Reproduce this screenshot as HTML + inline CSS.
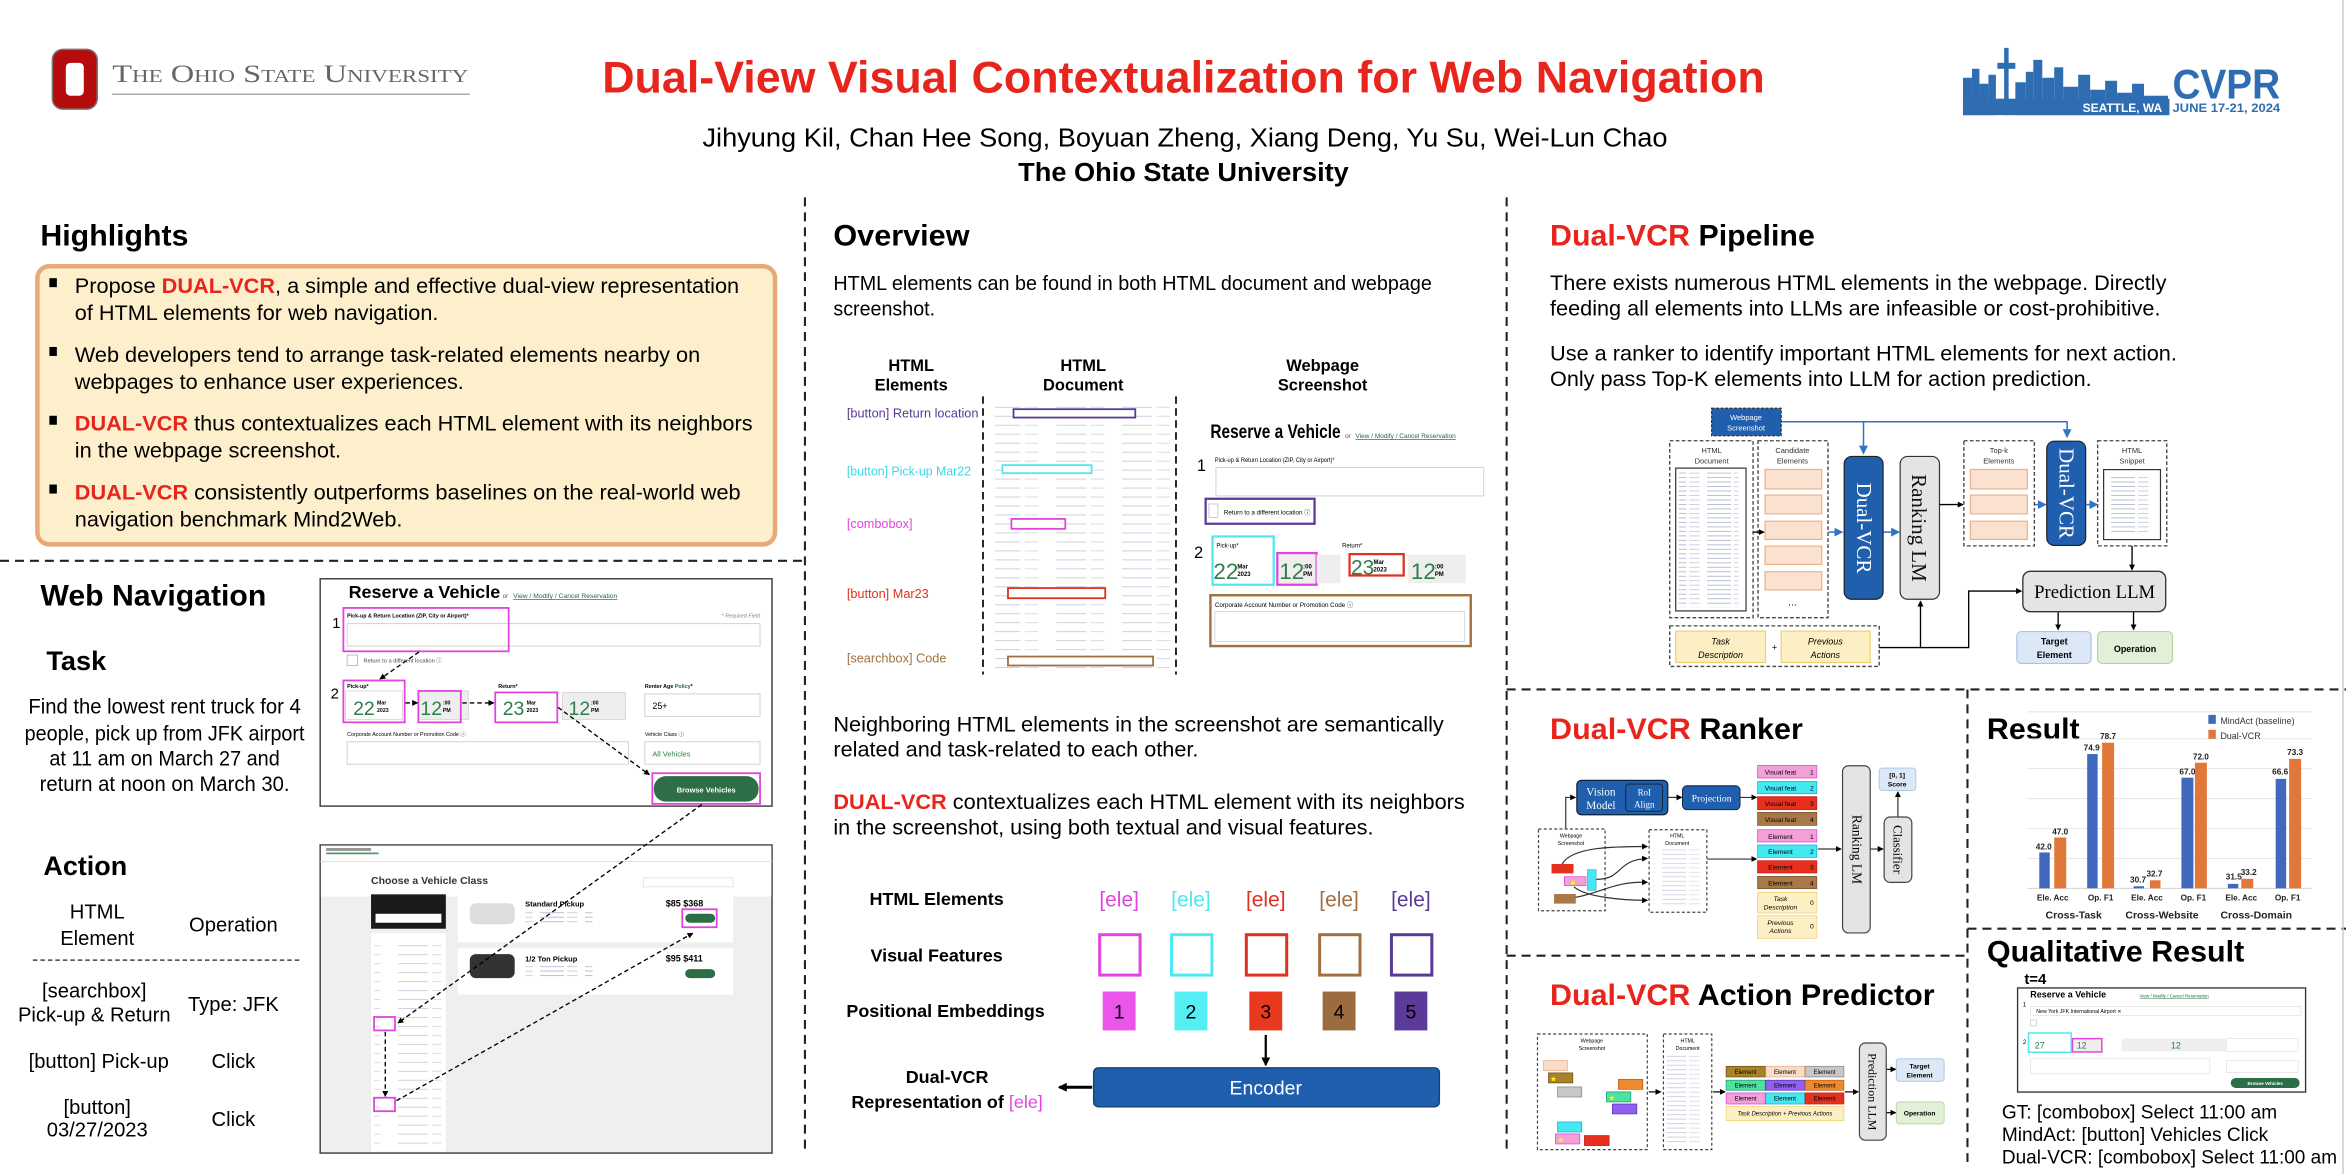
<!DOCTYPE html>
<html><head><meta charset="utf-8"><style>
html,body{margin:0;padding:0;background:#fff;}
svg{display:block;}
</style></head><body>
<svg width="2346" height="1174" viewBox="0 0 1568 785" preserveAspectRatio="none" xmlns="http://www.w3.org/2000/svg" font-family="Liberation Sans, sans-serif">
<defs>
<pattern id="code" width="44" height="6" patternUnits="userSpaceOnUse">
<rect x="2" y="2" width="20" height="0.7" fill="#cdd3e0"/><rect x="25" y="2" width="9" height="0.7" fill="#dadde6"/>
</pattern>
<pattern id="code2" width="30" height="3" patternUnits="userSpaceOnUse">
<rect x="1" y="1" width="16" height="0.6" fill="#b0b8d0"/><rect x="19" y="1" width="7" height="0.6" fill="#c8ccd8"/>
</pattern>
<marker id="ah" markerWidth="6" markerHeight="6" refX="5" refY="3" orient="auto" markerUnits="userSpaceOnUse"><path d="M0,0 L6,3 L0,6 z" fill="#000"/></marker>
<marker id="ahb" markerWidth="6" markerHeight="6" refX="5" refY="3" orient="auto" markerUnits="userSpaceOnUse"><path d="M0,0 L6,3 L0,6 z" fill="#2f74c8"/></marker>
<marker id="ahs" markerWidth="4" markerHeight="4" refX="3.5" refY="2" orient="auto" markerUnits="userSpaceOnUse"><path d="M0,0 L4,2 L0,4 z" fill="#000"/></marker>
</defs>

<!-- HEADER -->
<rect x="35" y="33" width="30" height="40" rx="7" fill="#b50d0d" stroke="#777" stroke-width="1"/>
<rect x="44" y="42" width="12" height="22" rx="3" fill="#fff"/>
<text x="75" y="55" font-family="Liberation Serif, serif" font-size="17" fill="#666" style="font-variant:small-caps" textLength="238" lengthAdjust="spacingAndGlyphs">The Ohio State University</text>
<line x1="75" y1="63" x2="314" y2="63" stroke="#999" stroke-width="0.8"/>
<text x="791" y="62" text-anchor="middle" font-size="30" font-weight="bold" fill="#e8251c" textLength="777" lengthAdjust="spacingAndGlyphs">Dual-View Visual Contextualization for Web Navigation</text>
<text x="792" y="98" text-anchor="middle" font-size="17.5" fill="#000" textLength="645" lengthAdjust="spacingAndGlyphs">Jihyung Kil, Chan Hee Song, Boyuan Zheng, Xiang Deng, Yu Su, Wei-Lun Chao</text>
<text x="791" y="121" text-anchor="middle" font-size="17.5" font-weight="bold" fill="#000" textLength="221" lengthAdjust="spacingAndGlyphs">The Ohio State University</text>
<!-- CVPR logo -->
<g fill="#2f6db2">
<rect x="1312" y="52" width="6" height="25"/><rect x="1318" y="46" width="5" height="31"/><rect x="1323" y="56" width="6" height="21"/>
<rect x="1329" y="50" width="5" height="27"/><rect x="1339.5" y="32" width="3" height="45"/><rect x="1335" y="42" width="12" height="4"/>
<rect x="1347" y="55" width="7" height="22"/><rect x="1354" y="48" width="5" height="29"/><rect x="1359" y="40" width="6" height="37"/>
<rect x="1365" y="52" width="8" height="25"/><rect x="1373" y="45" width="6" height="32"/><rect x="1379" y="58" width="10" height="19"/>
<rect x="1389" y="50" width="8" height="27"/><rect x="1397" y="60" width="10" height="17"/><rect x="1407" y="54" width="8" height="23"/>
<rect x="1415" y="62" width="10" height="15"/><rect x="1425" y="56" width="8" height="21"/><rect x="1433" y="64" width="16" height="13"/>
<rect x="1312" y="66" width="138" height="11"/>
</g>
<text x="1392" y="75" font-size="8" font-weight="bold" fill="#fff">SEATTLE, WA</text>
<text x="1452" y="66" font-size="28" font-weight="bold" fill="#2f6db2" textLength="72" lengthAdjust="spacingAndGlyphs">CVPR</text>
<text x="1452" y="75" font-size="8" font-weight="bold" fill="#2f6db2" textLength="72" lengthAdjust="spacingAndGlyphs">JUNE 17-21, 2024</text>

<!-- DIVIDERS -->
<g stroke="#222" stroke-width="1.4" stroke-dasharray="6,4" fill="none">
<line x1="538" y1="132" x2="538" y2="772"/>
<line x1="1007" y1="132" x2="1007" y2="772"/>
<line x1="0" y1="375" x2="538" y2="375"/>
<line x1="1007" y1="461" x2="1568" y2="461"/>
<line x1="1315" y1="461" x2="1315" y2="780"/>
<line x1="1007" y1="639" x2="1315" y2="639"/>
<line x1="1315" y1="621" x2="1568" y2="621"/>
</g>
<line x1="1566" y1="0" x2="1566" y2="785" stroke="#ccc" stroke-width="1"/>

<!-- HIGHLIGHTS -->
<text x="27" y="164" font-size="20" font-weight="bold" textLength="99" lengthAdjust="spacingAndGlyphs">Highlights</text>
<rect x="25" y="178" width="493" height="186" rx="8" fill="#fdefcb" stroke="#e8a878" stroke-width="3"/>
<g font-size="14.5" fill="#000">
<rect x="33" y="186" width="5" height="6"/><rect x="33" y="232" width="5" height="6"/><rect x="33" y="278" width="5" height="6"/><rect x="33" y="324" width="5" height="6"/>
<text x="50" y="196" textLength="444" lengthAdjust="spacingAndGlyphs">Propose <tspan fill="#e8251c" font-weight="bold">DUAL-VCR</tspan>, a simple and effective dual-view representation</text>
<text x="50" y="214" textLength="243" lengthAdjust="spacingAndGlyphs">of HTML elements for web navigation.</text>
<text x="50" y="242" textLength="418" lengthAdjust="spacingAndGlyphs">Web developers tend to arrange task-related elements nearby on</text>
<text x="50" y="260" textLength="260" lengthAdjust="spacingAndGlyphs">webpages to enhance user experiences.</text>
<text x="50" y="288" textLength="453" lengthAdjust="spacingAndGlyphs"><tspan fill="#e8251c" font-weight="bold">DUAL-VCR</tspan> thus contextualizes each HTML element with its neighbors</text>
<text x="50" y="306" textLength="178" lengthAdjust="spacingAndGlyphs">in the webpage screenshot.</text>
<text x="50" y="334" textLength="445" lengthAdjust="spacingAndGlyphs"><tspan fill="#e8251c" font-weight="bold">DUAL-VCR</tspan> consistently outperforms baselines on the real-world web</text>
<text x="50" y="352" textLength="219" lengthAdjust="spacingAndGlyphs">navigation benchmark Mind2Web.</text>
</g>

<!-- WEB NAVIGATION -->
<text x="27" y="405" font-size="20" font-weight="bold" textLength="151" lengthAdjust="spacingAndGlyphs">Web Navigation</text>
<text x="31" y="448" font-size="18" font-weight="bold" textLength="40" lengthAdjust="spacingAndGlyphs">Task</text>
<g font-size="14" text-anchor="middle">
<text x="110" y="477" textLength="182" lengthAdjust="spacingAndGlyphs">Find the lowest rent truck for 4</text>
<text x="110" y="495" textLength="187" lengthAdjust="spacingAndGlyphs">people, pick up from JFK airport</text>
<text x="110" y="512" textLength="154" lengthAdjust="spacingAndGlyphs">at 11 am on March 27 and</text>
<text x="110" y="529" textLength="167" lengthAdjust="spacingAndGlyphs">return at noon on March 30.</text>
</g>
<text x="29" y="585" font-size="18" font-weight="bold" textLength="56" lengthAdjust="spacingAndGlyphs">Action</text>
<g font-size="13.5" text-anchor="middle">
<text x="65" y="614">HTML</text><text x="65" y="632">Element</text>
<text x="156" y="623">Operation</text>
<text x="63" y="667">[searchbox]</text><text x="63" y="683">Pick-up &amp; Return</text>
<text x="156" y="676">Type: JFK</text>
<text x="66" y="714">[button] Pick-up</text><text x="156" y="714">Click</text>
<text x="65" y="745">[button]</text><text x="65" y="760">03/27/2023</text><text x="156" y="753">Click</text>
</g>
<line x1="22" y1="642" x2="201" y2="642" stroke="#444" stroke-width="1" stroke-dasharray="3,2"/>

<!-- Screenshot 1 -->
<rect x="214" y="387" width="302" height="152" fill="#fff" stroke="#444" stroke-width="1"/>
<text x="233" y="400" font-size="12" font-weight="bold">Reserve a Vehicle</text>
<text x="336" y="400" font-size="4" fill="#555">or</text>
<text x="343" y="400" font-size="4.5" fill="#1e6b3a" text-decoration="underline">View / Modify / Cancel Reservation</text>
<text x="222" y="420" font-size="10">1</text>
<text x="232" y="413" font-size="3.6" font-weight="bold">Pick-up &amp; Return Location (ZIP, City or Airport)*</text>
<text x="508" y="413" font-size="3.6" text-anchor="end" fill="#888" font-style="italic">* Required Field</text>
<rect x="232" y="417" width="276" height="15" fill="#fff" stroke="#ccc" stroke-width="0.6"/>
<rect x="229.5" y="406.5" width="110.5" height="29" fill="none" stroke="#e045e0" stroke-width="1.2"/>
<rect x="232" y="438" width="7" height="7" fill="#fff" stroke="#aaa" stroke-width="0.5"/>
<text x="243" y="443" font-size="3.8" fill="#444">Return to a different location ⓘ</text>
<text x="221" y="467" font-size="10">2</text>
<text x="232" y="460" font-size="3.6" font-weight="bold">Pick-up*</text>
<rect x="231" y="462" width="38" height="19" fill="#fff" stroke="#ccc" stroke-width="0.5"/>
<text x="236" y="478" font-size="13" fill="#2e7d4a">22</text><text x="252" y="471" font-size="3.5" font-weight="bold">Mar</text><text x="252" y="476" font-size="3.5" font-weight="bold">2023</text>
<rect x="229.5" y="455" width="41" height="28" fill="none" stroke="#e045e0" stroke-width="1.2"/>
<rect x="280" y="462" width="33" height="19" fill="#eee" stroke="#ccc" stroke-width="0.5"/>
<text x="281" y="478" font-size="13" fill="#2e7d4a">12</text><text x="296" y="471" font-size="3.5" font-weight="bold">:00</text><text x="296" y="476" font-size="3.5" font-weight="bold">PM</text>
<rect x="279.6" y="462" width="28.4" height="21" fill="none" stroke="#e045e0" stroke-width="1.2"/>
<text x="333" y="460" font-size="3.6" font-weight="bold">Return*</text>
<text x="336" y="478" font-size="13" fill="#2e7d4a">23</text><text x="352" y="471" font-size="3.5" font-weight="bold">Mar</text><text x="352" y="476" font-size="3.5" font-weight="bold">2023</text>
<rect x="331" y="463" width="41.5" height="20" fill="none" stroke="#e045e0" stroke-width="1.2"/>
<rect x="376" y="463" width="42" height="18" fill="#eee" stroke="#ccc" stroke-width="0.5"/>
<text x="380" y="478" font-size="13" fill="#2e7d4a">12</text><text x="395" y="471" font-size="3.5" font-weight="bold">:00</text><text x="395" y="476" font-size="3.5" font-weight="bold">PM</text>
<text x="431" y="460" font-size="3.6" font-weight="bold">Renter Age <tspan fill="#1e6b3a">Policy</tspan>*</text>
<rect x="431" y="464" width="77" height="15" fill="#fff" stroke="#ccc" stroke-width="0.6"/>
<text x="436" y="474" font-size="6">25+</text>
<text x="232" y="492" font-size="3.6">Corporate Account Number or Promotion Code ⓘ</text>
<rect x="232" y="496" width="188" height="15" fill="#fff" stroke="#ccc" stroke-width="0.6"/>
<text x="431" y="492" font-size="3.6">Vehicle Class ⓘ</text>
<rect x="431" y="496" width="77" height="15" fill="#fff" stroke="#ccc" stroke-width="0.6"/>
<text x="436" y="506" font-size="5" fill="#2e7d4a">All Vehicles</text>
<rect x="437" y="519" width="70" height="17" rx="8" fill="#2d6e46"/>
<text x="472" y="530" font-size="5" font-weight="bold" fill="#fff" text-anchor="middle">Browse Vehicles</text>
<rect x="436" y="517" width="72" height="20.5" fill="none" stroke="#e045e0" stroke-width="1.2"/>

<!-- Screenshot 2 -->
<rect x="214" y="565" width="302" height="206" fill="#efefef" stroke="#444" stroke-width="1"/>
<rect x="214.5" y="565.5" width="301" height="34" fill="#fff"/>
<line x1="214" y1="576" x2="516" y2="576" stroke="#ddd" stroke-width="0.6"/>
<rect x="218" y="567" width="30" height="2" fill="#999"/><rect x="218" y="570" width="35" height="1.2" fill="#5a9a6a"/>
<text x="248" y="591" font-size="7" font-weight="bold" fill="#333">Choose a Vehicle Class</text>
<rect x="430" y="587" width="60" height="6" fill="#fff" stroke="#ddd" stroke-width="0.5"/>
<rect x="248" y="598" width="50" height="23" fill="#1a1a1a"/>
<rect x="251" y="611" width="44" height="6" fill="#fff"/>
<rect x="248" y="624" width="50" height="146" fill="#fff"/>
<rect x="250" y="630" width="45" height="138" fill="url(#code)"/>
<rect x="306" y="598" width="184" height="32" fill="#fff"/>
<rect x="306" y="634" width="184" height="31" fill="#fff"/>
<rect x="314" y="604" width="30" height="14" rx="4" fill="#ddd"/>
<rect x="314" y="638" width="30" height="16" rx="4" fill="#333"/>
<text x="351" y="606" font-size="5" font-weight="bold">Standard Pickup</text>
<text x="351" y="643" font-size="5" font-weight="bold">1/2 Ton Pickup</text>
<rect x="351" y="609" width="45" height="8" fill="url(#code2)"/><rect x="351" y="646" width="45" height="8" fill="url(#code2)"/>
<text x="445" y="606" font-size="6" font-weight="bold">$85 $368</text>
<text x="445" y="643" font-size="6" font-weight="bold">$95 $411</text>
<rect x="458" y="611" width="20" height="6" rx="3" fill="#2d6e46"/>
<rect x="458" y="648" width="20" height="6" rx="3" fill="#2d6e46"/>
<rect x="456" y="608" width="23" height="12" fill="none" stroke="#e045e0" stroke-width="1.2"/>
<rect x="250" y="680" width="14" height="9" fill="none" stroke="#e045e0" stroke-width="1.2"/>
<rect x="250" y="734" width="14" height="9" fill="none" stroke="#e045e0" stroke-width="1.2"/>
<g stroke="#000" stroke-width="0.9" stroke-dasharray="3,2" fill="none" marker-end="url(#ahs)">
<line x1="280" y1="436" x2="254" y2="454"/>
<line x1="271" y1="470" x2="279" y2="470"/>
<line x1="309" y1="470" x2="330" y2="470"/>
<line x1="373" y1="473" x2="434" y2="518"/>
<line x1="469" y1="538" x2="266" y2="684"/>
<line x1="257.5" y1="690" x2="257.5" y2="733"/>
<line x1="265" y1="736" x2="463" y2="624"/>
</g>

<!-- OVERVIEW -->
<text x="557" y="164" font-size="20" font-weight="bold" textLength="91" lengthAdjust="spacingAndGlyphs">Overview</text>
<text x="557" y="194" font-size="13.5" textLength="400" lengthAdjust="spacingAndGlyphs">HTML elements can be found in both HTML document and webpage</text>
<text x="557" y="211" font-size="13.5" textLength="68" lengthAdjust="spacingAndGlyphs">screenshot.</text>
<g font-size="11" font-weight="bold" text-anchor="middle">
<text x="609" y="248">HTML</text><text x="609" y="261">Elements</text>
<text x="724" y="248">HTML</text><text x="724" y="261">Document</text>
<text x="884" y="248">Webpage</text><text x="884" y="261">Screenshot</text>
</g>
<g font-size="8.5">
<text x="566" y="279" fill="#5a3a98" textLength="88" lengthAdjust="spacingAndGlyphs">[button] Return location</text>
<text x="566" y="318" fill="#3ad8e8" textLength="83" lengthAdjust="spacingAndGlyphs">[button] Pick-up Mar22</text>
<text x="566" y="353" fill="#e045e0">[combobox]</text>
<text x="566" y="400" fill="#e0301e">[button] Mar23</text>
<text x="566" y="443" fill="#a07040">[searchbox] Code</text>
</g>
<g stroke="#111" stroke-width="1.2" stroke-dasharray="5,3"><line x1="657" y1="265" x2="657" y2="451"/><line x1="786" y1="265" x2="786" y2="451"/></g>
<rect x="665" y="268" width="118" height="180" fill="url(#code)"/>
<g fill="#fff" stroke-width="1.2">
<rect x="677.4" y="273.6" width="81.4" height="5.6" stroke="#5a3a98"/>
<rect x="670" y="311" width="59.6" height="5.4" stroke="#4ee8f0"/>
<rect x="676" y="347" width="36" height="6.6" stroke="#e045e0"/>
<rect x="673.7" y="393.2" width="65" height="6.8" stroke="#e0301e"/>
<rect x="673.7" y="439" width="97" height="6" stroke="#a07040"/>
</g>
<text x="809" y="293" font-size="13" font-weight="bold" textLength="87" lengthAdjust="spacingAndGlyphs">Reserve a Vehicle</text>
<text x="899" y="293" font-size="4.5" fill="#555">or</text>
<text x="906" y="293" font-size="4.5" fill="#1e6b3a" text-decoration="underline" textLength="67" lengthAdjust="spacingAndGlyphs">View / Modify / Cancel Reservation</text>
<text x="800" y="315" font-size="11">1</text>
<text x="812" y="309" font-size="4" textLength="80" lengthAdjust="spacingAndGlyphs">Pick-up &amp; Return Location (ZIP, City or Airport)*</text>
<rect x="812.7" y="312.6" width="179" height="19" fill="#fff" stroke="#ccc" stroke-width="0.6"/>
<rect x="805.8" y="333.5" width="72.8" height="16.7" fill="#fff" stroke="#5a3a98" stroke-width="1.5"/>
<rect x="808" y="337" width="6" height="9" fill="#fff" stroke="#bbb" stroke-width="0.5"/>
<text x="818" y="344" font-size="4.2">Return to a different location ⓘ</text>
<text x="798" y="373" font-size="11">2</text>
<text x="813" y="366" font-size="4">Pick-up*</text><text x="897" y="366" font-size="4">Return*</text>
<rect x="810.4" y="358.7" width="40.9" height="32.3" fill="none" stroke="#4ee8f0" stroke-width="1.5"/>
<text x="811" y="387" font-size="15" fill="#2e7d4a">22</text><text x="827" y="380" font-size="4" font-weight="bold">Mar</text><text x="827" y="385" font-size="4" font-weight="bold">2023</text>
<rect x="853.7" y="369.8" width="26.3" height="21.2" fill="#eee" stroke="#e045e0" stroke-width="1.5"/>
<text x="855" y="387" font-size="15" fill="#2e7d4a">12</text><text x="871" y="380" font-size="4" font-weight="bold">:00</text><text x="871" y="385" font-size="4" font-weight="bold">PM</text>
<rect x="880" y="371" width="16" height="19" fill="#eee"/>
<rect x="902" y="370.5" width="36.2" height="14.3" fill="#fff" stroke="#e0301e" stroke-width="1.5"/>
<text x="903" y="384" font-size="14" fill="#2e7d4a">23</text><text x="918" y="377" font-size="4" font-weight="bold">Mar</text><text x="918" y="382" font-size="4" font-weight="bold">2023</text>
<rect x="941" y="370.9" width="38.7" height="19" fill="#eee"/>
<text x="943" y="387" font-size="15" fill="#2e7d4a">12</text><text x="959" y="380" font-size="4" font-weight="bold">:00</text><text x="959" y="385" font-size="4" font-weight="bold">PM</text>
<rect x="809" y="398" width="174" height="34" fill="#fff" stroke="#a07040" stroke-width="1.6"/>
<text x="812" y="406" font-size="4.2">Corporate Account Number or Promotion Code ⓘ</text>
<rect x="812" y="409" width="167" height="20" fill="#fff" stroke="#ccc" stroke-width="0.5"/>

<g font-size="14">
<text x="557" y="489" textLength="408" lengthAdjust="spacingAndGlyphs">Neighboring HTML elements in the screenshot are semantically</text>
<text x="557" y="506" textLength="244" lengthAdjust="spacingAndGlyphs">related and task-related to each other.</text>
<text x="557" y="541" textLength="422" lengthAdjust="spacingAndGlyphs"><tspan fill="#e8251c" font-weight="bold">DUAL-VCR</tspan> contextualizes each HTML element with its neighbors</text>
<text x="557" y="558" textLength="361" lengthAdjust="spacingAndGlyphs">in the screenshot, using both textual and visual features.</text>
</g>
<g font-size="12" font-weight="bold" text-anchor="middle">
<text x="626" y="605">HTML Elements</text>
<text x="626" y="643">Visual Features</text>
<text x="632" y="680">Positional Embeddings</text>
<text x="633" y="724">Dual-VCR</text>
<text x="633" y="741">Representation of <tspan fill="#e045e0" font-weight="normal">[ele]</tspan></text>
</g>
<g font-size="14" text-anchor="middle">
<text x="748" y="606" fill="#e045e0">[ele]</text>
<text x="796" y="606" fill="#4ee8f0">[ele]</text>
<text x="846" y="606" fill="#e0301e">[ele]</text>
<text x="895" y="606" fill="#a07040">[ele]</text>
<text x="943" y="606" fill="#5a3a98">[ele]</text>
</g>
<g fill="#fff" stroke-width="2">
<rect x="735" y="625" width="27" height="27" stroke="#e045e0"/>
<rect x="783" y="625" width="27" height="27" stroke="#4ee8f0"/>
<rect x="833" y="625" width="27" height="27" stroke="#e0301e"/>
<rect x="882" y="625" width="27" height="27" stroke="#a07040"/>
<rect x="930" y="625" width="27" height="27" stroke="#5a3a98"/>
</g>
<rect x="737" y="663" width="22" height="26" fill="#ea55ea"/>
<rect x="785" y="663" width="22" height="26" fill="#55eef2"/>
<rect x="835" y="663" width="22" height="26" fill="#e8381e"/>
<rect x="884" y="663" width="22" height="26" fill="#9a6c40"/>
<rect x="932" y="663" width="22" height="26" fill="#5b3a9a"/>
<g font-size="13" text-anchor="middle"><text x="748" y="681">1</text><text x="796" y="681">2</text><text x="846" y="681">3</text><text x="895" y="681">4</text><text x="943" y="681">5</text></g>
<line x1="846" y1="692" x2="846" y2="712" stroke="#000" stroke-width="1.5" marker-end="url(#ah)"/>
<rect x="731" y="714" width="231" height="26" rx="3" fill="#1f5fad" stroke="#16457d" stroke-width="1"/>
<text x="846" y="732" font-size="13" fill="#fff" text-anchor="middle">Encoder</text>
<line x1="730" y1="727" x2="708" y2="727" stroke="#000" stroke-width="2" marker-end="url(#ah)"/>

<!-- PIPELINE -->
<text x="1036" y="164" font-size="20" font-weight="bold" textLength="177" lengthAdjust="spacingAndGlyphs"><tspan fill="#e8251c">Dual-VCR</tspan> Pipeline</text>
<g font-size="14">
<text x="1036" y="194" textLength="412" lengthAdjust="spacingAndGlyphs">There exists numerous HTML elements in the webpage. Directly</text>
<text x="1036" y="211" textLength="408" lengthAdjust="spacingAndGlyphs">feeding all elements into LLMs are infeasible or cost-prohibitive.</text>
<text x="1036" y="241" textLength="419" lengthAdjust="spacingAndGlyphs">Use a ranker to identify important HTML elements for next action.</text>
<text x="1036" y="258" textLength="362" lengthAdjust="spacingAndGlyphs">Only pass Top-K elements into LLM for action prediction.</text>
</g>
<g stroke="#2f74c8" stroke-width="1" fill="none">
<polyline points="1190,282 1381.6,282 1381.6,292" marker-end="url(#ahb)"/>
<line x1="1245.5" y1="282" x2="1245.5" y2="303" marker-end="url(#ahb)"/>
<line x1="1222" y1="355.8" x2="1231" y2="355.8" marker-end="url(#ahb)"/>
<line x1="1259" y1="355.8" x2="1269" y2="355.8" marker-end="url(#ahb)"/>
<line x1="1360" y1="337.4" x2="1367" y2="337.4" marker-end="url(#ahb)"/>
<line x1="1394.5" y1="337.4" x2="1401.5" y2="337.4" marker-end="url(#ahb)"/>
</g>
<rect x="1144" y="273" width="46.5" height="18.4" fill="#1f5fad" stroke="#333" stroke-dasharray="2,1" stroke-width="0.8"/>
<text x="1167" y="281" font-size="5" fill="#fff" text-anchor="middle">Webpage</text><text x="1167" y="288" font-size="5" fill="#fff" text-anchor="middle">Screenshot</text>
<g fill="none" stroke="#444" stroke-width="0.9" stroke-dasharray="2.5,1.5">
<rect x="1116" y="294.7" width="55.7" height="118.3"/>
<rect x="1175" y="294.7" width="46.8" height="118.3"/>
<rect x="1312.6" y="294.7" width="47.1" height="70.3"/>
<rect x="1402" y="294.7" width="46.2" height="70.3"/>
<rect x="1116" y="418.5" width="140" height="27.1"/>
</g>
<g font-size="5" text-anchor="middle" fill="#333">
<text x="1144" y="303">HTML</text><text x="1144" y="310">Document</text>
<text x="1198" y="303">Candidate</text><text x="1198" y="310">Elements</text>
<text x="1336" y="303">Top-k</text><text x="1336" y="310">Elements</text>
<text x="1425" y="303">HTML</text><text x="1425" y="310">Snippet</text>
</g>
<rect x="1120" y="313" width="47" height="95.5" fill="#fff" stroke="#333" stroke-width="0.8"/>
<rect x="1122" y="316" width="40" height="90" fill="url(#code2)"/>
<rect x="1406" y="314" width="38" height="46.8" fill="#fff" stroke="#333" stroke-width="0.8"/>
<rect x="1408" y="317" width="33" height="40" fill="url(#code2)"/>
<g fill="#fbe1d0" stroke="#eeb08a" stroke-width="0.8">
<rect x="1179.7" y="313.9" width="37.9" height="13"/><rect x="1179.7" y="331" width="37.9" height="12.6"/>
<rect x="1179.7" y="348.5" width="37.9" height="12.2"/><rect x="1179.7" y="365.2" width="37.9" height="12.2"/>
<rect x="1179.7" y="382.3" width="37.9" height="12.2"/>
<rect x="1317" y="313.9" width="38" height="13"/><rect x="1317" y="331" width="38" height="12.6"/><rect x="1317" y="348.5" width="38" height="12.2"/>
</g>
<text x="1198" y="405" font-size="7" text-anchor="middle">...</text>
<rect x="1232.6" y="305.2" width="26" height="95.5" rx="5" fill="#1f5fad" stroke="#222" stroke-width="0.8"/>
<text transform="translate(1241,353) rotate(90)" font-family="Liberation Serif, serif" font-size="14" fill="#fff" text-anchor="middle">Dual-VCR</text>
<rect x="1270" y="305.2" width="26.3" height="95.5" rx="5" fill="#e4e4e4" stroke="#333" stroke-width="0.8"/>
<text transform="translate(1278,353) rotate(90)" font-family="Liberation Serif, serif" font-size="14" fill="#111" text-anchor="middle">Ranking LM</text>
<rect x="1368" y="295" width="26" height="69.7" rx="5" fill="#1f5fad" stroke="#222" stroke-width="0.8"/>
<text transform="translate(1376.5,330) rotate(90)" font-family="Liberation Serif, serif" font-size="14" fill="#fff" text-anchor="middle">Dual-VCR</text>
<g stroke="#000" stroke-width="0.9" fill="none">
<line x1="1172" y1="355.8" x2="1179" y2="355.8" marker-end="url(#ahs)"/>
<line x1="1296.5" y1="337.4" x2="1312" y2="337.4" marker-end="url(#ahs)"/>
<line x1="1425" y1="365" x2="1425" y2="381" marker-end="url(#ahs)"/>
<polyline points="1256,433 1283.6,433 1283.6,402" marker-end="url(#ahs)"/>
<polyline points="1283.6,433 1315.8,433 1315.8,395.2 1351,395.2" marker-end="url(#ahs)"/>
<line x1="1375.6" y1="408.5" x2="1375.6" y2="421" marker-end="url(#ahs)"/>
<line x1="1426" y1="408.5" x2="1426" y2="421" marker-end="url(#ahs)"/>
</g>
<rect x="1352" y="382" width="95.5" height="27" rx="5" fill="#e4e4e4" stroke="#333" stroke-width="0.9"/>
<text x="1400" y="400" font-family="Liberation Serif, serif" font-size="12.5" text-anchor="middle">Prediction LLM</text>
<rect x="1348" y="422.3" width="49.6" height="21.3" rx="3" fill="#dce8f5" stroke="#a8c4e4" stroke-width="0.8"/>
<text x="1373" y="431" font-size="6" font-weight="bold" text-anchor="middle">Target</text><text x="1373" y="440" font-size="6" font-weight="bold" text-anchor="middle">Element</text>
<rect x="1402" y="422.3" width="50" height="21.3" rx="3" fill="#e3f0d8" stroke="#b4d69c" stroke-width="0.8"/>
<text x="1427" y="436" font-size="6" font-weight="bold" text-anchor="middle">Operation</text>
<rect x="1120" y="422" width="60" height="21" fill="#fdefc4" stroke="#f0d070" stroke-width="0.8"/>
<rect x="1190.5" y="422" width="59.5" height="21" fill="#fdefc4" stroke="#f0d070" stroke-width="0.8"/>
<g font-size="6" font-style="italic" text-anchor="middle"><text x="1150" y="431">Task</text><text x="1150" y="440">Description</text><text x="1220" y="431">Previous</text><text x="1220" y="440">Actions</text></g>
<text x="1186" y="435" font-size="6" text-anchor="middle">+</text>

<!-- RANKER -->
<text x="1036" y="494" font-size="20" font-weight="bold" textLength="169" lengthAdjust="spacingAndGlyphs"><tspan fill="#e8251c">Dual-VCR</tspan> Ranker</text>
<rect x="1053.9" y="521.8" width="60.8" height="23" rx="3" fill="#1f5fad" stroke="#123" stroke-width="0.8"/>
<rect x="1086.6" y="524.3" width="24.6" height="18.2" rx="2" fill="#1f5fad" stroke="#123" stroke-width="0.6"/>
<g font-family="Liberation Serif, serif" fill="#fff" text-anchor="middle">
<text x="1070" y="532" font-size="7.5">Vision</text><text x="1070" y="541" font-size="7.5">Model</text>
<text x="1099" y="532" font-size="6">RoI</text><text x="1099" y="540" font-size="6">Align</text>
</g>
<rect x="1124.5" y="525.4" width="38.5" height="16" rx="3" fill="#1f5fad" stroke="#123" stroke-width="0.6"/>
<text x="1144" y="536" font-family="Liberation Serif, serif" font-size="6.5" fill="#fff" text-anchor="middle">Projection</text>
<g font-size="4.5" text-anchor="middle" stroke-width="0.5">
<rect x="1174.7" y="511.8" width="39.6" height="8.4" fill="#f4a0d8" stroke="#e045e0"/><text x="1190" y="518">Visual feat</text><text x="1211" y="518">1</text>
<rect x="1174.7" y="522.5" width="39.6" height="8.2" fill="#44e8f2" stroke="#2ac"/><text x="1190" y="528.5">Visual feat</text><text x="1211" y="528.5">2</text>
<rect x="1174.7" y="532.7" width="39.6" height="8.7" fill="#e8301e" stroke="#b22"/><text x="1190" y="539">Visual feat</text><text x="1211" y="539">3</text>
<rect x="1174.7" y="543.2" width="39.6" height="8.7" fill="#a87848" stroke="#7a5530"/><text x="1190" y="549.5">Visual feat</text><text x="1211" y="549.5">4</text>
<rect x="1174.7" y="554.8" width="39.6" height="8.2" fill="#f4a0d8" stroke="#e045e0"/><text x="1190" y="561">Element</text><text x="1211" y="561">1</text>
<rect x="1174.7" y="565" width="39.6" height="8.3" fill="#44e8f2" stroke="#2ac"/><text x="1190" y="571">Element</text><text x="1211" y="571">2</text>
<rect x="1174.7" y="575.5" width="39.6" height="8.2" fill="#e8301e" stroke="#b22"/><text x="1190" y="581.5">Element</text><text x="1211" y="581.5">3</text>
<rect x="1174.7" y="586" width="39.6" height="8.2" fill="#a87848" stroke="#7a5530"/><text x="1190" y="592">Element</text><text x="1211" y="592">4</text>
<rect x="1174.7" y="596.7" width="39.6" height="13.8" fill="#fdefc4" stroke="#f0d070"/><text x="1190" y="602.5" font-style="italic">Task</text><text x="1190" y="608" font-style="italic">Description</text><text x="1211" y="605">0</text>
<rect x="1174.7" y="612.3" width="39.6" height="15.1" fill="#fdefc4" stroke="#f0d070"/><text x="1190" y="618.5" font-style="italic">Previous</text><text x="1190" y="624" font-style="italic">Actions</text><text x="1211" y="621">0</text>
</g>
<rect x="1231.5" y="512" width="18.5" height="111.8" rx="4" fill="#e4e4e4" stroke="#444" stroke-width="0.8"/>
<text transform="translate(1238,568) rotate(90)" font-family="Liberation Serif, serif" font-size="9" text-anchor="middle">Ranking LM</text>
<rect x="1259.3" y="546.3" width="18.5" height="43.7" rx="4" fill="#e4e4e4" stroke="#444" stroke-width="0.8"/>
<text transform="translate(1265.5,568) rotate(90)" font-family="Liberation Serif, serif" font-size="8.5" text-anchor="middle">Classifier</text>
<rect x="1256" y="513.6" width="24.5" height="14.9" rx="2" fill="#dce8f5" stroke="#a8c4e4" stroke-width="0.6"/>
<text x="1268" y="520" font-size="4.5" font-weight="bold" text-anchor="middle">[0, 1]</text><text x="1268" y="526" font-size="4.5" font-weight="bold" text-anchor="middle">Score</text>
<g fill="none" stroke="#444" stroke-width="0.8" stroke-dasharray="2,1.5">
<rect x="1028.3" y="554.3" width="44.5" height="54.7"/><rect x="1102.2" y="554.8" width="38.6" height="55.2"/>
</g>
<text x="1050" y="560" font-size="3.5" text-anchor="middle">Webpage</text><text x="1050" y="565" font-size="3.5" text-anchor="middle">Screenshot</text>
<text x="1121" y="560" font-size="3.5" text-anchor="middle">HTML</text><text x="1121" y="565" font-size="3.5" text-anchor="middle">Document</text>
<rect x="1105" y="568" width="33" height="38" fill="url(#code2)" opacity="0.6"/>
<rect x="1037" y="577.7" width="14.7" height="6.3" fill="#e8301e"/>
<rect x="1045.6" y="586.2" width="14.4" height="6" fill="#f4a0d8" stroke="#e045e0" stroke-width="0.5"/>
<text x="1049" y="592" font-size="5" fill="#ff0">★</text>
<rect x="1061" y="581.5" width="5.8" height="13.8" fill="#44e8f2" stroke="#2ac" stroke-width="0.4"/>
<rect x="1038.7" y="597.8" width="14.5" height="6.4" fill="#a87848"/>
<g stroke="#333" stroke-width="0.8" fill="none">
<path d="M1044,578 C1050,566 1080,566 1101,566" marker-end="url(#ahs)"/>
<path d="M1067,588 C1085,588 1080,575 1101,574" marker-end="url(#ahs)"/>
<path d="M1052,593 C1060,600 1085,602 1101,602" marker-end="url(#ahs)"/>
<path d="M1053,600 C1070,597 1080,589 1101,590" marker-end="url(#ahs)"/>
<polyline points="1046.5,554 1046.5,533.2 1053,533.2" marker-end="url(#ahs)"/>
<line x1="1114.7" y1="533.2" x2="1124" y2="533.2" marker-end="url(#ahs)"/>
<line x1="1163" y1="533.2" x2="1174" y2="533.2" marker-end="url(#ahs)"/>
<line x1="1141" y1="574.4" x2="1174" y2="574.4" marker-end="url(#ahs)"/>
<line x1="1215" y1="567.7" x2="1230.5" y2="567.7" marker-end="url(#ahs)"/>
<line x1="1250" y1="567.7" x2="1258.5" y2="567.7" marker-end="url(#ahs)"/>
<line x1="1268.5" y1="546" x2="1268.5" y2="529.5" marker-end="url(#ahs)"/>
</g>

<!-- ACTION PREDICTOR -->
<text x="1036" y="672" font-size="20" font-weight="bold" textLength="257" lengthAdjust="spacingAndGlyphs"><tspan fill="#e8251c">Dual-VCR</tspan> Action Predictor</text>
<g fill="none" stroke="#444" stroke-width="0.8" stroke-dasharray="2,1.5">
<rect x="1027.6" y="691.4" width="73.4" height="77.3"/><rect x="1111.8" y="691.4" width="32.3" height="77.3"/>
</g>
<text x="1064" y="697" font-size="3.5" text-anchor="middle">Webpage</text><text x="1064" y="702" font-size="3.5" text-anchor="middle">Screenshot</text>
<text x="1128" y="697" font-size="3.5" text-anchor="middle">HTML</text><text x="1128" y="702" font-size="3.5" text-anchor="middle">Document</text>
<rect x="1114" y="705" width="27" height="60" fill="url(#code2)" opacity="0.7"/>
<g stroke-width="0.5">
<rect x="1031.6" y="709.2" width="16.1" height="6.7" fill="#f8dcc8" stroke="#e8b090"/>
<rect x="1035" y="717.4" width="16.2" height="6.7" fill="#a8822a" stroke="#705010"/>
<rect x="1041" y="726.8" width="16.2" height="6.7" fill="#c8c8c8" stroke="#888"/>
<rect x="1081.7" y="721.7" width="16.3" height="6.7" fill="#f08830" stroke="#c06010"/>
<rect x="1073.7" y="730.1" width="16.3" height="6.7" fill="#50e0a0" stroke="#20a070"/>
<rect x="1077.7" y="738.2" width="16.3" height="6.6" fill="#9060f0" stroke="#6030c0"/>
<rect x="1041" y="750.2" width="16.2" height="6.7" fill="#44e8f2" stroke="#2ac"/>
<rect x="1039.6" y="758.2" width="16.3" height="6.7" fill="#f4a0d8" stroke="#e045e0"/>
<rect x="1059" y="759.3" width="16.5" height="6.7" fill="#e8301e" stroke="#b22"/>
</g>
<g font-size="5" fill="#ff0"><text x="1036" y="723">★</text><text x="1075" y="736">★</text><text x="1041" y="764">★</text></g>
<g font-size="4" text-anchor="middle" stroke-width="0.5">
<rect x="1153.7" y="713" width="26.1" height="7.1" fill="#a8822a" stroke="#705010"/><text x="1166.7" y="718">Element</text>
<rect x="1180.2" y="713" width="25.9" height="7.1" fill="#f8dcc8" stroke="#e8b090"/><text x="1193" y="718">Element</text>
<rect x="1206.5" y="713" width="25.9" height="7.1" fill="#c8c8c8" stroke="#888"/><text x="1219.5" y="718">Element</text>
<rect x="1153.7" y="722.3" width="26.1" height="6.7" fill="#50e0a0" stroke="#20a070"/><text x="1166.7" y="727">Element</text>
<rect x="1180.2" y="722.3" width="25.9" height="6.7" fill="#9060f0" stroke="#6030c0"/><text x="1193" y="727">Element</text>
<rect x="1206.5" y="722.3" width="25.9" height="6.7" fill="#f08830" stroke="#c06010"/><text x="1219.5" y="727">Element</text>
<rect x="1153.7" y="730.8" width="26.1" height="7.4" fill="#f4a0d8" stroke="#e045e0"/><text x="1166.7" y="736">Element</text>
<rect x="1180.2" y="730.8" width="25.9" height="7.4" fill="#44e8f2" stroke="#2ac"/><text x="1193" y="736">Element</text>
<rect x="1206.5" y="730.8" width="25.9" height="7.4" fill="#e8301e" stroke="#b22"/><text x="1219.5" y="736">Element</text>
<rect x="1153.7" y="739.7" width="78.7" height="9.6" fill="#fdefc4" stroke="#f0d070"/><text x="1193" y="746" font-style="italic">Task Description + Previous Actions</text>
</g>
<rect x="1242.8" y="697.4" width="17.9" height="65" rx="4" fill="#e4e4e4" stroke="#444" stroke-width="0.8"/>
<text transform="translate(1249,730) rotate(90)" font-family="Liberation Serif, serif" font-size="8" text-anchor="middle">Prediction LLM</text>
<rect x="1267.4" y="708" width="32" height="15" rx="2" fill="#dce8f5" stroke="#a8c4e4" stroke-width="0.6"/>
<text x="1283" y="714.5" font-size="4.5" font-weight="bold" text-anchor="middle">Target</text><text x="1283" y="720.5" font-size="4.5" font-weight="bold" text-anchor="middle">Element</text>
<rect x="1267.4" y="736.8" width="32" height="14.7" rx="2" fill="#e3f0d8" stroke="#b4d69c" stroke-width="0.6"/>
<text x="1283" y="746" font-size="4.5" font-weight="bold" text-anchor="middle">Operation</text>
<g stroke="#000" stroke-width="0.8" fill="none">
<line x1="1102" y1="730.1" x2="1110" y2="730.1" marker-end="url(#ahs)"/>
<line x1="1145" y1="730.1" x2="1153" y2="730.1" marker-end="url(#ahs)"/>
<line x1="1233" y1="730.1" x2="1242" y2="730.1" marker-end="url(#ahs)"/>
<line x1="1261" y1="715" x2="1267" y2="715" marker-end="url(#ahs)"/>
<line x1="1261" y1="744" x2="1267" y2="744" marker-end="url(#ahs)"/>
</g>

<!-- RESULT -->
<text x="1328" y="494" font-size="20" font-weight="bold" textLength="62" lengthAdjust="spacingAndGlyphs">Result</text>
<g stroke="#e4e4e4" stroke-width="0.6">
<line x1="1355" y1="476" x2="1545" y2="476"/><line x1="1355" y1="494" x2="1545" y2="494"/><line x1="1355" y1="514" x2="1545" y2="514"/>
<line x1="1355" y1="534" x2="1545" y2="534"/><line x1="1355" y1="554" x2="1545" y2="554"/><line x1="1355" y1="574" x2="1545" y2="574"/>
</g>
<line x1="1355" y1="594" x2="1545" y2="594" stroke="#ccc" stroke-width="0.6"/>
<rect x="1476" y="478" width="5" height="6" fill="#4069bd"/><text x="1484" y="484" font-size="6" fill="#333">MindAct (baseline)</text>
<rect x="1476" y="488" width="5" height="6" fill="#e2773a"/><text x="1484" y="494" font-size="6" fill="#333">Dual-VCR</text>
<g fill="#4069bd">
<rect x="1363" y="570" width="7" height="24"/><rect x="1395" y="504.2" width="7" height="89.8"/>
<rect x="1426" y="592.6" width="7" height="1.4"/><rect x="1458" y="520" width="8" height="74"/>
<rect x="1489" y="591" width="7" height="3"/><rect x="1521" y="520.8" width="7" height="73.2"/>
</g>
<g fill="#e2773a">
<rect x="1373" y="560" width="8" height="34"/><rect x="1405" y="496.6" width="8" height="97.4"/>
<rect x="1437" y="588.6" width="7" height="5.4"/><rect x="1467" y="510" width="8" height="84"/>
<rect x="1498" y="587.6" width="8" height="6.4"/><rect x="1530" y="507.4" width="8" height="86.6"/>
</g>
<g font-size="5.5" font-weight="bold" text-anchor="middle" fill="#222">
<text x="1366" y="568">42.0</text><text x="1377" y="558">47.0</text>
<text x="1398" y="502">74.9</text><text x="1409" y="494">78.7</text>
<text x="1429" y="590">30.7</text><text x="1440" y="586">32.7</text>
<text x="1462" y="518">67.0</text><text x="1471" y="508">72.0</text>
<text x="1493" y="588">31.5</text><text x="1503" y="585">33.2</text>
<text x="1524" y="518">66.6</text><text x="1534" y="505">73.3</text>
<text x="1372" y="602">Ele. Acc</text><text x="1404" y="602">Op. F1</text>
<text x="1435" y="602">Ele. Acc</text><text x="1466" y="602">Op. F1</text>
<text x="1498" y="602">Ele. Acc</text><text x="1529" y="602">Op. F1</text>
</g>
<g font-size="7" font-weight="bold" text-anchor="middle" fill="#222">
<text x="1386" y="614">Cross-Task</text><text x="1445" y="614">Cross-Website</text><text x="1508" y="614">Cross-Domain</text>
</g>

<!-- QUALITATIVE -->
<text x="1328" y="643" font-size="20" font-weight="bold" textLength="172" lengthAdjust="spacingAndGlyphs">Qualitative Result</text>
<text x="1353" y="658" font-size="10" font-weight="bold">t=4</text>
<rect x="1348.5" y="660.6" width="192.5" height="69.6" fill="#fff" stroke="#333" stroke-width="0.9"/>
<text x="1357" y="667" font-size="6" font-weight="bold">Reserve a Vehicle</text>
<text x="1430" y="667" font-size="3" fill="#1e6b3a" text-decoration="underline">View / Modify / Cancel Reservation</text>
<text x="1352" y="673" font-size="4">1</text>
<rect x="1357" y="673" width="181" height="6" fill="#fff" stroke="#ddd" stroke-width="0.4"/>
<text x="1361" y="677.5" font-size="3.5">New York JFK International Airport ✕</text>
<rect x="1357" y="682" width="4" height="4" fill="#fff" stroke="#bbb" stroke-width="0.4"/>
<text x="1352" y="698" font-size="4">2</text>
<rect x="1355.8" y="690.7" width="28.5" height="12.9" fill="#fff" stroke="#4ee8f0" stroke-width="1"/>
<text x="1360" y="701" font-size="6" fill="#2e7d4a">27</text>
<rect x="1385.2" y="694.5" width="19.6" height="8.9" fill="#eee" stroke="#e045e0" stroke-width="1"/>
<text x="1388" y="701" font-size="6" fill="#2e7d4a">12</text>
<rect x="1418" y="694.5" width="70" height="8.5" fill="#eee"/>
<text x="1451" y="701" font-size="6" fill="#2e7d4a">12</text>
<rect x="1488" y="694.5" width="48" height="8.5" fill="#fff" stroke="#ddd" stroke-width="0.4"/>
<rect x="1357" y="708" width="120" height="10" fill="#fff" stroke="#ddd" stroke-width="0.4"/>
<rect x="1488" y="709" width="48" height="8" fill="#fff" stroke="#ddd" stroke-width="0.4"/>
<rect x="1491" y="720.8" width="46" height="6.7" rx="3.3" fill="#2d6e46"/>
<text x="1514" y="725.5" font-size="3" fill="#fff" text-anchor="middle" font-weight="bold">Browse Vehicles</text>
<g font-size="13">
<text x="1338" y="748" textLength="184" lengthAdjust="spacingAndGlyphs">GT: [combobox] Select 11:00 am</text>
<text x="1338" y="763" textLength="178" lengthAdjust="spacingAndGlyphs">MindAct: [button] Vehicles Click</text>
<text x="1338" y="778" textLength="224" lengthAdjust="spacingAndGlyphs">Dual-VCR: [combobox] Select 11:00 am</text>
</g>
</svg>
</body></html>
